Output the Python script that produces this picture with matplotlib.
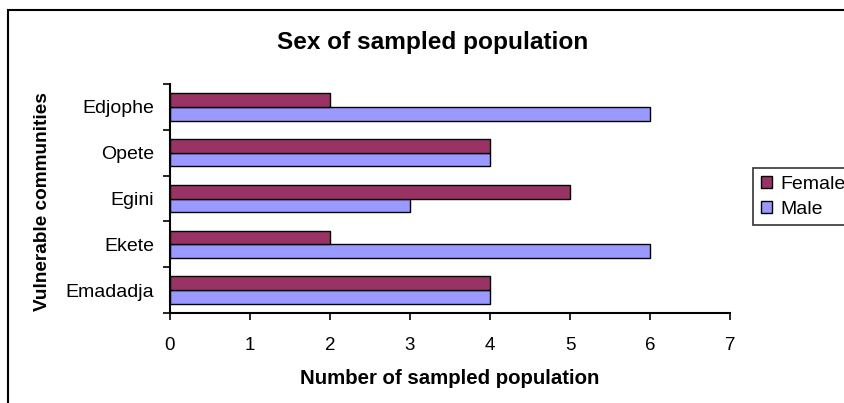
import numpy as np
import matplotlib.pyplot as plt
from matplotlib.patches import Rectangle

# --------------------------
# DATA
# --------------------------
communities = ['Emadadja', 'Ekete', 'Egini', 'Opete', 'Edjophe']
female = [4, 2, 5, 4, 2]
male = [4, 6, 3, 4, 6]

plt.rcParams['font.family'] = ['Liberation Sans', 'DejaVu Sans']

fig = plt.figure(figsize=(8.45, 4.03), dpi=100)
W, H = 845, 403

# outer chart frame (runs off the right and bottom edge)
fig.patches.append(Rectangle((8 / W, -0.1), 1.2, 1 - 10 / H + 0.1,
                             transform=fig.transFigure, fill=False,
                             edgecolor='black', linewidth=1.5))

ax = fig.add_axes([170 / W, 1 - 313 / H, (730 - 170) / W, (313 - 84) / H])

y = np.arange(len(communities))
h = 0.3
ax.barh(y - h / 2, male, height=h, color='#9999FF', edgecolor='black',
        linewidth=1, label='Male')
ax.barh(y + h / 2, female, height=h, color='#993366', edgecolor='black',
        linewidth=1, label='Female')

ax.set_xlim(0, 7)
ax.set_ylim(-0.5, len(communities) - 0.5)
ax.set_xticks(range(8))
ax.set_yticks(y)
ax.set_yticklabels(communities)
ax.set_yticks(np.arange(-0.5, len(communities)), minor=True)
ax.tick_params(axis='y', which='major', length=0, pad=11.5, labelsize=14)
ax.tick_params(axis='y', which='minor', length=5, width=1.2)
ax.tick_params(axis='x', length=5, width=1.2, pad=12, labelsize=13.5)

for s in ['top', 'right']:
    ax.spines[s].set_visible(False)
for s in ['left', 'bottom']:
    ax.spines[s].set_linewidth(1.5)

ax.set_xlabel('Number of sampled population', fontsize=14.7, fontweight='bold',
              labelpad=11)
fig.text(43 / W, 1 - 202 / H, 'Vulnerable communities', fontsize=13.7,
         fontweight='bold', rotation=90, ha='center', va='center')
fig.text(433 / W, 1 - 42 / H, 'Sex of sampled population', fontsize=17.6,
         fontweight='bold', ha='center', va='center')

handles, labels = ax.get_legend_handles_labels()
leg = fig.legend(handles[::-1], labels[::-1], loc='upper left',
                 bbox_to_anchor=(753 / W, 1 - 168 / H), fontsize=14,
                 frameon=True, fancybox=False, borderaxespad=0,
                 handlelength=0.6, handleheight=0.6, handletextpad=0.4,
                 labelspacing=0.4, borderpad=0.4)
leg.get_frame().set_edgecolor('black')
leg.get_frame().set_linewidth(1.2)

fig.savefig('out.png', dpi=100)
